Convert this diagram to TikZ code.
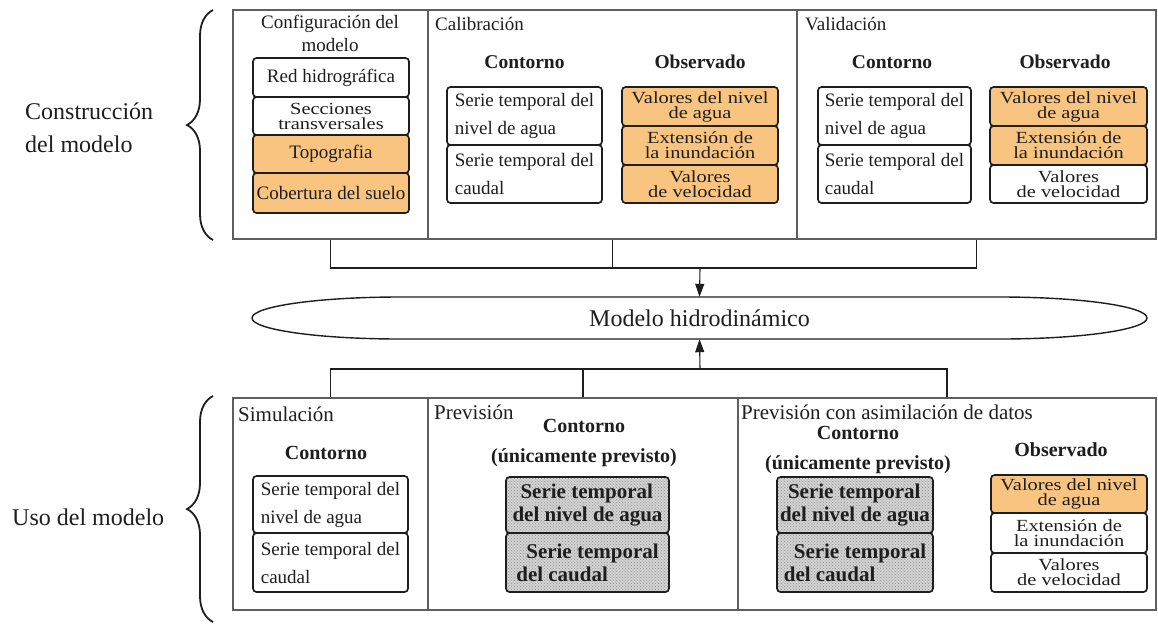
\documentclass[tikz,border=0pt]{standalone}
\usepackage{fontspec}
\setmainfont{Liberation Serif}
\newfontfamily\sqfont[FakeStretch=1.2]{Liberation Serif}
\usetikzlibrary{patterns,decorations.pathreplacing,arrows.meta}
\definecolor{orfill}{RGB}{248,196,128}
\definecolor{ink}{RGB}{30,30,30}
\definecolor{pline}{RGB}{95,95,95}
\newcommand{\fsz}[2]{\fontsize{#1}{#2}\selectfont}
\begin{document}
\begin{tikzpicture}[x=1pt,y=-1pt,
  panel/.style={draw=pline,line width=1.1pt,inner sep=0pt,rectangle},
  box/.style={draw=ink,line width=1.7pt,rounded corners=3.5pt,inner sep=0pt,align=center,text=ink,font=\fsz{19}{23}},
  lbox/.style={box,align=left,font=\fsz{19}{28}},
  obox/.style={box,fill=orfill},
  wbox/.style={box,fill=white},
  sqz/.style={font=\sqfont\fsz{17}{15}},
  hbox/.style={box,preaction={fill=gray!35},pattern=crosshatch dots,pattern color=gray!85,align=left,font=\bfseries\fsz{21}{23}},
  ttl/.style={anchor=west,inner sep=0pt,text=ink,font=\fsz{19}{23}},
  bttl/.style={ttl,font=\fsz{21}{23}},
  head/.style={inner sep=0pt,text=ink,align=center,font=\bfseries\fsz{19.5}{29}},
  bhead/.style={head,font=\bfseries\fsz{20}{30}},
  side/.style={anchor=west,inner sep=0pt,text=ink,align=left,font=\fsz{24}{33}},
  conn/.style={draw=ink,line width=1.1pt},
  arr/.style={conn,-{Triangle[length=13pt,width=9pt]}},
  brc/.style={draw=ink,line width=1.8pt,decorate,decoration={brace,amplitude=26pt}}
]
\path[fill=white,use as bounding box] (0,0) rectangle (1158,630);

% side labels and braces
\node[side] (lc) at (25,128) {Construcción\\del modelo};
\node[side] (lu) at (12,517) {Uso del modelo};
\draw[brc] (213,240) -- (213,10);
\draw[brc] (213,622) -- (213,396);

% panels
\node[panel,minimum width=195,minimum height=229] (pconf) at (330.5,124.5) {};
\node[panel,minimum width=369,minimum height=229] (pcal) at (612.5,124.5) {};
\node[panel,minimum width=359,minimum height=229] (pval) at (976.5,124.5) {};
\node[panel,minimum width=195,minimum height=212] (psim) at (330.5,504) {};
\node[panel,minimum width=310,minimum height=212] (pprev) at (583,504) {};
\node[panel,minimum width=418,minimum height=212] (ppcad) at (947,504) {};

% titles
\node[ttl,anchor=center,align=center] (tconf) at (330,33) {Configuración del\\modelo};
\node[ttl] (tcal) at (435,24) {Calibración};
\node[ttl] (tval) at (805,24) {Validación};
\node[bttl] (tsim) at (238,414) {Simulación};
\node[bttl] (tprev) at (434,412) {Previsión};
\node[bttl] (tpcad) at (741,412) {Previsión con asimilación de datos};

% configuration column
\node[box,minimum width=156,minimum height=39] (red) at (331,77.5) {Red hidrográfica};
\node[wbox,sqz,minimum width=156,minimum height=38] (secc) at (331,116) {Secciones\\transversales};
\node[obox,minimum width=156,minimum height=38] (topo) at (331,154) {Topografia};
\node[obox,minimum width=156,minimum height=40] (cob) at (331,193) {Cobertura del suelo};

% calibration
\node[head] (hc1) at (524.5,62) {Contorno};
\node[head] (ho1) at (700,62) {Observado};
\node[lbox,minimum width=155,minimum height=58] (c1) at (524.5,116) {Serie temporal del\\nivel de agua};
\node[lbox,minimum width=155,minimum height=58] (c2) at (524.5,174) {Serie temporal del\\caudal};
\node[obox,sqz,minimum width=156,minimum height=39] (c3) at (700,106.5) {Valores del nivel\\de agua};
\node[obox,sqz,minimum width=156,minimum height=39] (c4) at (700,145.5) {Extensión de\\la inundación};
\node[obox,sqz,minimum width=156,minimum height=38] (c5) at (700,184) {Valores\\de velocidad};

% validation
\node[head] (hc2) at (892,62) {Contorno};
\node[head] (ho2) at (1065,62) {Observado};
\node[lbox,minimum width=153,minimum height=58] (v1) at (894.5,116) {Serie temporal del\\nivel de agua};
\node[lbox,minimum width=153,minimum height=58] (v2) at (894.5,174) {Serie temporal del\\caudal};
\node[obox,sqz,minimum width=157,minimum height=39] (v3) at (1068.5,106.5) {Valores del nivel\\de agua};
\node[obox,sqz,minimum width=157,minimum height=39] (v4) at (1068.5,145.5) {Extensión de\\la inundación};
\node[wbox,sqz,minimum width=157,minimum height=38] (v5) at (1068.5,184) {Valores\\de velocidad};

% model
\node[inner sep=0pt,minimum width=895,minimum height=42,text=ink,font=\fsz{24}{28}] (model) at (699.5,318) {Modelo hidrodinámico};
\draw[ink,line width=1.4pt] (252,318) .. controls (252,306.4) and (318,297) .. (400,297) -- (1000,297)
  .. controls (1081,297) and (1147,306.4) .. (1147,318)
  .. controls (1147,329.6) and (1081,339) .. (1000,339) -- (400,339)
  .. controls (318,339) and (252,329.6) .. (252,318) -- cycle;

% connectors
\coordinate (jt) at (700,268);
\coordinate (jb) at (700,369);
\draw[conn] (pconf.south) -- (pconf.south |- jt) -- (pval.south |- jt) -- (pval.south);
\draw[conn] (pcal.south) -- (pcal.south |- jt);
\draw[arr] (jt) -- (model.north);
\draw[conn] (psim.north) -- (psim.north |- jb) -- (ppcad.north |- jb) -- (ppcad.north);
\draw[conn] (pprev.north) -- (pprev.north |- jb);
\draw[arr] (jb) -- (model.south);

% simulation
\node[bhead] (hs) at (326,453) {Contorno};
\node[lbox,minimum width=155,minimum height=57] (s1) at (330.5,504.5) {Serie temporal del\\nivel de agua};
\node[lbox,minimum width=155,minimum height=59] (s2) at (330.5,562.5) {Serie temporal del\\caudal};

% forecast
\node[bhead] (hp) at (584,442.5) {Contorno\\(únicamente previsto)};
\node[hbox,minimum width=163,minimum height=56] (p1) at (587.5,505) {\hspace*{8pt}Serie temporal\\del nivel de agua};
\node[hbox,minimum width=163,minimum height=59] (p2) at (587.5,562.5) {\hspace*{10pt}Serie temporal\\del caudal};

% forecast with data assimilation
\node[bhead] (hq) at (858,450) {Contorno\\(únicamente previsto)};
\node[hbox,minimum width=156,minimum height=56] (q1) at (855,505) {\hspace*{8pt}Serie temporal\\del nivel de agua};
\node[hbox,minimum width=156,minimum height=59] (q2) at (855,562.5) {\hspace*{10pt}Serie temporal\\del caudal};
\node[bhead] (hq2) at (1061,450) {Observado};
\node[obox,sqz,minimum width=156,minimum height=38] (q3) at (1069,494) {Valores del nivel\\de agua};
\node[wbox,sqz,minimum width=156,minimum height=40] (q4) at (1069,533) {Extensión de\\la inundación};
\node[wbox,sqz,minimum width=156,minimum height=39] (q5) at (1069,572.5) {Valores\\de velocidad};
\end{tikzpicture}
\end{document}
